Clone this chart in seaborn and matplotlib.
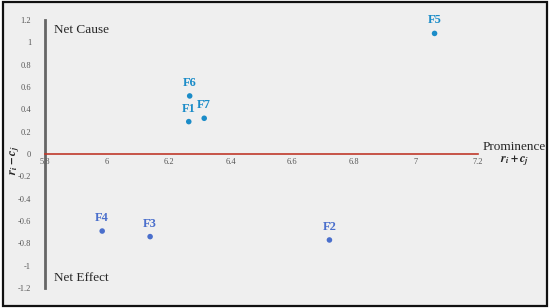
import matplotlib
matplotlib.use("Agg")
import matplotlib.pyplot as plt
import seaborn as sns
import pandas as pd
from matplotlib.patches import Rectangle

# Data
factors = ["F1", "F2", "F3", "F4", "F5", "F6", "F7"]
prominence = [6.265, 6.72, 6.14, 5.985, 7.06, 6.268, 6.315]
relation = [0.29, -0.77, -0.74, -0.69, 1.08, 0.52, 0.32]
group = ["cause", "effect", "effect", "effect", "cause", "cause", "cause"]

x_ticks = [5.8, 6, 6.2, 6.4, 6.6, 6.8, 7, 7.2]
y_ticks = [-1.2, -1, -0.8, -0.6, -0.4, -0.2, 0, 0.2, 0.4, 0.6, 0.8, 1, 1.2]

palette = {"cause": "#1b8cc8", "effect": "#4a6fcc"}

df = pd.DataFrame({"factor": factors, "x": prominence, "y": relation, "group": group})

sns.set_theme(style="white")
plt.rcParams["font.family"] = ["Liberation Serif", "DejaVu Serif"]
plt.rcParams["mathtext.fontset"] = "stix"

fig = plt.figure(figsize=(5.5, 3.08), dpi=100)
fig.patch.set_facecolor("white")
fig.patches.append(Rectangle((0.006, 0.008), 0.988, 0.984, transform=fig.transFigure,
                             facecolor="#efefef", edgecolor="#111111", linewidth=1.6, zorder=-10))

ax = fig.add_axes([0.0818, 0.065, 0.787, 0.87])
ax.set_facecolor("none")

sns.scatterplot(data=df, x="x", y="y", hue="group", palette=palette, s=16,
                edgecolor="none", legend=False, ax=ax, zorder=3)

for _, row in df.iterrows():
    ax.annotate(row["factor"], (row["x"], row["y"]), xytext=(0, 5), textcoords="offset points",
                ha="center", va="bottom", fontsize=9, fontweight="bold",
                color=palette[row["group"]])

ax.set_xlim(5.8, 7.2)
ax.set_ylim(-1.2, 1.2)
ax.set_xticks(x_ticks)
ax.set_xticklabels([f"{v:g}" for v in x_ticks])
ax.set_yticks(y_ticks)
ax.set_yticklabels([f"{v:g}" for v in y_ticks])
ax.tick_params(axis="both", length=0, labelsize=6, labelcolor="#555555")
ax.tick_params(axis="y", pad=10)
ax.tick_params(axis="x", pad=3)

for s in ["top", "right"]:
    ax.spines[s].set_visible(False)
ax.spines["bottom"].set_position(("data", 0))
ax.spines["bottom"].set_color("#c0392b")
ax.spines["bottom"].set_linewidth(1.2)
ax.spines["left"].set_color("#666666")
ax.spines["left"].set_linewidth(2)

ax.set_xlabel("")
ax.set_ylabel("")

ax.text(0.02, 0.985, "Net Cause", transform=ax.transAxes, fontsize=9.5, va="top", ha="left")
ax.text(0.02, 0.015, "Net Effect", transform=ax.transAxes, fontsize=9.5, va="bottom", ha="left")
fig.text(0.935, 0.523, "Prominence", fontsize=9.5, ha="center", va="center")
fig.text(0.935, 0.478, r"$\mathbfit{r_i + c_j}$", fontsize=9, ha="center", va="center")
fig.text(0.028, 0.48, r"$\mathbfit{r_i - c_j}$", fontsize=9, ha="center", va="center", rotation=90)

fig.savefig("out.png", dpi=100, facecolor="white")
